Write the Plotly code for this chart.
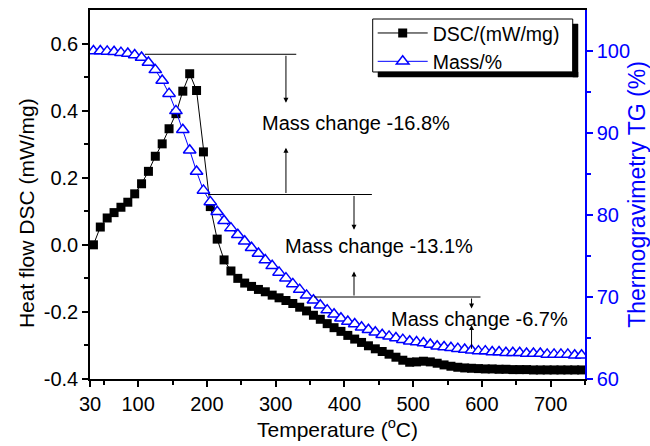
import plotly.graph_objects as go

# ---------------- data ----------------
temperature = [35, 45, 55, 65, 75, 85, 95, 105, 115, 125, 135, 145, 155, 165, 175, 185,
               195, 205, 215, 225, 235, 245, 255, 265, 275, 285, 295, 305, 315, 325, 335,
               345, 355, 365, 375, 385, 395, 405, 415, 425, 435, 445, 455, 465, 475, 485,
               495, 505, 515, 525, 535, 545, 555, 565, 575, 585, 595, 605, 615, 625, 635,
               645, 655, 665, 675, 685, 695, 705, 715, 725, 735, 745]

dsc = [0.000, 0.053, 0.080, 0.096, 0.112, 0.127, 0.152, 0.182, 0.219, 0.264, 0.301,
       0.346, 0.391, 0.458, 0.510, 0.460, 0.277, 0.114, 0.017, -0.045, -0.078, -0.100,
       -0.114, -0.124, -0.133, -0.140, -0.150, -0.158, -0.166, -0.175, -0.186, -0.197,
       -0.210, -0.222, -0.235, -0.247, -0.258, -0.270, -0.281, -0.291, -0.301, -0.310,
       -0.318, -0.326, -0.335, -0.344, -0.350, -0.349, -0.347, -0.349, -0.353, -0.358,
       -0.362, -0.365, -0.367, -0.368, -0.369, -0.370, -0.370, -0.371, -0.371, -0.372,
       -0.372, -0.372, -0.373, -0.373, -0.373, -0.373, -0.373, -0.373, -0.373, -0.373]

mass = [100.0, 100.0, 99.95, 99.9, 99.8, 99.7, 99.5, 99.2, 98.6, 97.7, 96.4, 94.8, 92.7,
        90.4, 87.9, 85.3, 83.0, 81.6, 80.4, 79.3, 78.4, 77.6, 76.8, 76.0, 75.3, 74.5,
        73.8, 73.0, 72.3, 71.6, 70.9, 70.2, 69.6, 69.0, 68.4, 67.9, 67.4, 67.0, 66.7,
        66.3, 66.0, 65.7, 65.4, 65.2, 65.0, 64.8, 64.6, 64.5, 64.4, 64.2, 64.0, 63.9,
        63.8, 63.7, 63.6, 63.5, 63.4, 63.4, 63.3, 63.3, 63.2, 63.2, 63.2, 63.1, 63.1,
        63.1, 63.0, 63.0, 63.0, 63.0, 62.9, 62.9]

x_tickvals = [30, 100, 200, 300, 400, 500, 600, 700]
x_ticktext = ["30", "100", "200", "300", "400", "500", "600", "700"]
x_minor = [50, 150, 250, 350, 450, 550, 650, 750]

y1_tickvals = [-0.4, -0.2, 0.0, 0.2, 0.4, 0.6]
y1_ticktext = ["-0.4", "-0.2", "0.0", "0.2", "0.4", "0.6"]
y1_minor = [-0.3, -0.1, 0.1, 0.3, 0.5]

y2_tickvals = [60, 70, 80, 90, 100]
y2_ticktext = ["60", "70", "80", "90", "100"]
y2_minor = [65, 75, 85, 95]

# mass-change step annotations
step_levels = [99.6, 82.5, 70.0]           # horizontal reference lines (mass %)
step_x0 = [110, 202, 356]                  # start temperature of each line
step_x1 = [330, 440, 598]                  # end temperature of each line
step_labels = ["Mass change -16.8%", "Mass change -13.1%", "Mass change -6.7%"]
label_x = [417, 450, 596]
label_y = [91.2, 76.2, 67.3]
arrow_x = [315, 315, 414, 414, 585, 585]
arrow_tail = [99.6, 82.5, 82.5, 70.0, 70.0, 63.5]
arrow_tip = [93.7, 88.2, 78.2, 73.1, 68.6, 66.6]

BLUE = "#0000ff"
FONT = "Liberation Sans, Arial, sans-serif"

fig = go.Figure()
fig.add_trace(go.Scatter(
    x=temperature, y=dsc, name="DSC/(mW/mg)", mode="lines+markers",
    line=dict(color="black", width=1),
    marker=dict(symbol="square", size=9, color="black"),
    yaxis="y"))
fig.add_trace(go.Scatter(
    x=temperature, y=mass, name="Mass/%", mode="lines+markers",
    line=dict(color=BLUE, width=1),
    marker=dict(symbol="triangle-up", size=11, color="white",
                line=dict(color=BLUE, width=1.5)),
    yaxis="y2"))

shapes = []
for lv, a, b in zip(step_levels, step_x0, step_x1):
    shapes.append(dict(type="line", xref="x", yref="y2", x0=a, x1=b, y0=lv, y1=lv,
                       line=dict(color="black", width=1)))

# legend frame: white box with black border, then its drop shadow (right and bottom bars)
shapes.append(dict(type="rect", xref="paper", yref="paper", x0=0.5711, x1=0.9752,
                   y0=0.8320, y1=0.9756, fillcolor="white",
                   line=dict(color="black", width=1), layer="above"))
shapes.append(dict(type="rect", xref="paper", yref="paper", x0=0.9752, x1=0.9859,
                   y0=0.8184, y1=0.9621, fillcolor="black",
                   line=dict(color="black", width=0.5), layer="above"))
shapes.append(dict(type="rect", xref="paper", yref="paper", x0=0.5818, x1=0.9859,
                   y0=0.8184, y1=0.8320, fillcolor="black",
                   line=dict(color="black", width=0.5), layer="above"))

annotations = []
for t, lx, ly in zip(step_labels, label_x, label_y):
    annotations.append(dict(text=t, x=lx, y=ly, xref="x", yref="y2", showarrow=False,
                            font=dict(family=FONT, size=20, color="black")))
for ax_, tail, tip in zip(arrow_x, arrow_tail, arrow_tip):
    annotations.append(dict(text="", x=ax_, y=tip, ax=ax_, ay=tail, xref="x", yref="y2",
                            axref="x", ayref="y2", showarrow=True, arrowhead=2,
                            arrowsize=1, arrowwidth=1, arrowcolor="black", standoff=0,
                            startstandoff=0))
# left axis title (sits a little below the axis centre in the reference)
annotations.append(dict(text="Heat flow DSC (mW/mg)", xref="paper", yref="paper",
                        x=-0.127, y=0.45, xanchor="center", yanchor="middle",
                        textangle=-90, showarrow=False,
                        font=dict(family=FONT, size=21, color="black")))

fig.update_layout(
    width=650, height=446,
    margin=dict(l=90, r=65, t=10, b=67, autoexpand=False),
    paper_bgcolor="white", plot_bgcolor="white",
    font=dict(family=FONT, size=20, color="black"),
    showlegend=True,
    legend=dict(x=0.5711, y=0.9897, xanchor="left", yanchor="top",
                bgcolor="rgba(0,0,0,0)", borderwidth=0,
                font=dict(family=FONT, size=19.5, color="black"),
                itemwidth=50, tracegroupgap=0),
    xaxis=dict(range=[30, 750], tickmode="array", tickvals=x_tickvals, ticktext=x_ticktext,
               ticks="outside", ticklen=6, tickwidth=1.5, tickcolor="black",
               showline=True, linewidth=1.5, linecolor="black", mirror=True,
               showgrid=False, zeroline=False, automargin=False,
               minor=dict(tickmode="array", tickvals=x_minor, ticks="outside",
                          ticklen=4, tickwidth=1.5, tickcolor="black", showgrid=False),
               title=dict(text="Temperature (<sup>o</sup>C)", font=dict(size=21), standoff=6),
               tickfont=dict(size=20)),
    yaxis=dict(range=[-0.4, 0.7], tickmode="array", tickvals=y1_tickvals, ticktext=y1_ticktext,
               ticks="outside", ticklen=6, tickwidth=1.5, tickcolor="black",
               showline=True, linewidth=1.5, linecolor="black",
               showgrid=False, zeroline=False, automargin=False,
               minor=dict(tickmode="array", tickvals=y1_minor, ticks="outside",
                          ticklen=4, tickwidth=1.5, tickcolor="black", showgrid=False),
               tickfont=dict(size=20)),
    yaxis2=dict(range=[60, 105], overlaying="y", side="right", anchor="x",
                tickmode="array", tickvals=y2_tickvals, ticktext=y2_ticktext,
                ticks="outside", ticklen=6, tickwidth=1.5, tickcolor=BLUE,
                showline=True, linewidth=1.5, linecolor=BLUE,
                showgrid=False, zeroline=False, automargin=False,
                minor=dict(tickmode="array", tickvals=y2_minor, ticks="outside",
                           ticklen=4, tickwidth=1.5, tickcolor=BLUE, showgrid=False),
                title=dict(text="Thermogravimetry TG (%)", font=dict(size=23, color=BLUE),
                           standoff=9),
                tickfont=dict(size=20, color=BLUE)),
    shapes=shapes, annotations=annotations,
)

fig.write_html("out.html", config={"displayModeBar": False},
               post_script="document.body.style.margin='0';")
